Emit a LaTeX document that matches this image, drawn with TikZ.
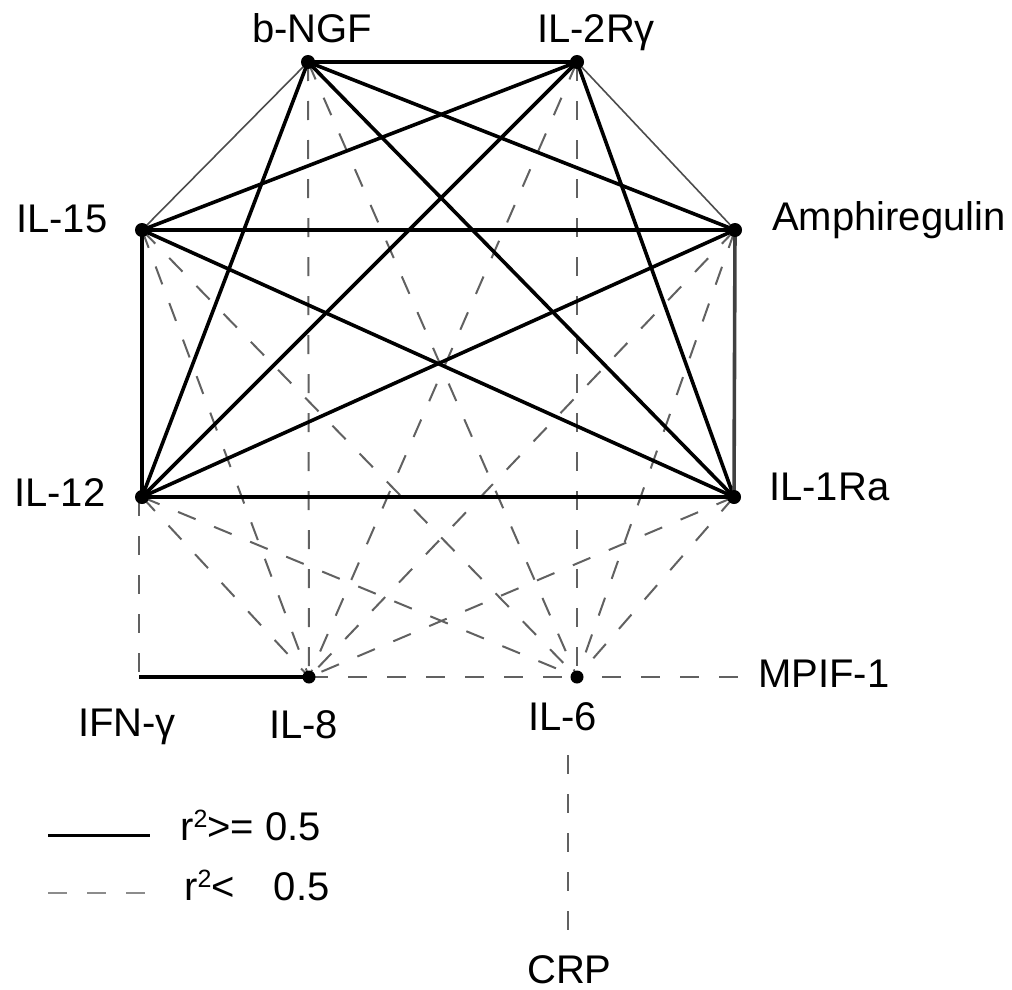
\documentclass[tikz,border=0pt]{standalone}
\usepackage{fontspec}
\setmainfont{Liberation Sans}
\newcommand{\sqsup}{\raisebox{13pt}{\fontsize{25}{25}\selectfont 2}}
\begin{document}
\begin{tikzpicture}[x=1pt,y=-1pt,
  dot/.style={circle,fill=black,inner sep=0pt,minimum size=13pt},
  strong/.style={line width=3.6pt,black},
  weak/.style={line width=1.6pt,black!70},
  dashedge/.style={line width=2pt,black!62,dash pattern=on 19pt off 20pt},
  lab/.style={font=\fontsize{40}{48}\selectfont,inner sep=0pt}]
\useasboundingbox (0,0) rectangle (1012,990);
% nodes
\node[dot] (bngf) at (308,62) {};
\node[dot] (il2r) at (577,62) {};
\node[dot] (il15) at (142,230) {};
\node[dot] (amph) at (735,230) {};
\node[dot] (il12) at (142,497) {};
\node[dot] (il1ra) at (734,497) {};
\node[dot,minimum size=12pt] (il8) at (309,677) {};
\node[dot,minimum size=12pt] (il6) at (577,677) {};
\coordinate (ifn) at (139,677);
% labels
\node[lab,anchor=base] (bngfl) at (312,43) {b-NGF};
\node[lab,anchor=base] (il2rl) at (596,43) {IL-2Rγ};
\node[lab,anchor=base west] (il15l) at (16,232) {IL-15};
\node[lab,anchor=base west] (amphl) at (772,230) {Amphiregulin};
\node[lab,anchor=base west] (il12l) at (14,506) {IL-12};
\node[lab,anchor=base west] (il1ral) at (769,500) {IL-1Ra};
\node[lab,anchor=base west] (ifnl) at (78,736) {IFN-γ};
\node[lab,anchor=base west] (il8l) at (269,738) {IL-8};
\node[lab,anchor=base west] (il6l) at (528,730) {IL-6};
\node[lab,anchor=base west] (mpif) at (758,687) {MPIF-1};
\node[lab,anchor=base west] (crp) at (527,983) {CRP};
\coordinate (mpifend) at (740,677);
\coordinate (crptop) at (568,935);
\coordinate (crpbot) at (568,755);
% dashed edges
\foreach \a in {bngf,il2r,il15,amph,il12,il1ra}{
  \draw[dashedge] (\a.center) -- (il8.center);
  \draw[dashedge] (\a.center) -- (il6.center);
}
\draw[dashedge] (il8.center) -- (il6.center);
\draw[dashedge,dash phase=14pt] (il6.center) -- (mpifend);
\draw[dashedge] (il12.center) ++(-3,0) -- (ifn);
\draw[dashedge] (crpbot) -- (crptop);
% solid edges
\draw[strong] (ifn) -- (il8.center);
\draw[weak] (bngf.center) -- (il15.center);
\draw[weak] (il2r.center) -- (amph.center);
\draw[strong] (bngf.center) -- (il2r.center);
\draw[strong] (bngf.center) -- (amph.center);
\draw[strong] (bngf.center) -- (il12.center);
\draw[strong] (bngf.center) -- (il1ra.center);
\draw[strong] (il2r.center) -- (il15.center);
\draw[strong] (il2r.center) -- (il12.center);
\draw[strong] (il2r.center) -- (il1ra.center);
\draw[strong] (il15.center) -- (amph.center);
\draw[strong,line width=4pt] (il15.center) -- (il12.center);
\draw[strong] (il15.center) -- (il1ra.center);
\draw[strong] (amph.center) -- (il12.center);
\draw[strong,black!75] (amph.center) -- (il1ra.center);
\draw[strong,line width=3.9pt] (il12.center) -- (il1ra.center);
% redraw dots on top
\foreach \a in {bngf,il2r,il15,amph,il12,il1ra}{
  \fill (\a) circle (7pt);
}
\foreach \a in {il8,il6}{
  \fill (\a) circle (6.5pt);
}
% legend
\coordinate (ls1) at (48,835);
\coordinate (le1) at (150,835);
\coordinate (ls2) at (48,893);
\coordinate (le2) at (153,893);
\draw[strong,line width=3pt] (ls1) -- (le1);
\draw[dashedge,black!45] (ls2) -- (le2);
\node[lab,anchor=base west] (leg1) at (180,840) {r\sqsup>= 0.5};
\node[lab,anchor=base west] (leg2) at (184,900) {r\sqsup<\hspace{39pt}0.5};
\end{tikzpicture}
\end{document}
